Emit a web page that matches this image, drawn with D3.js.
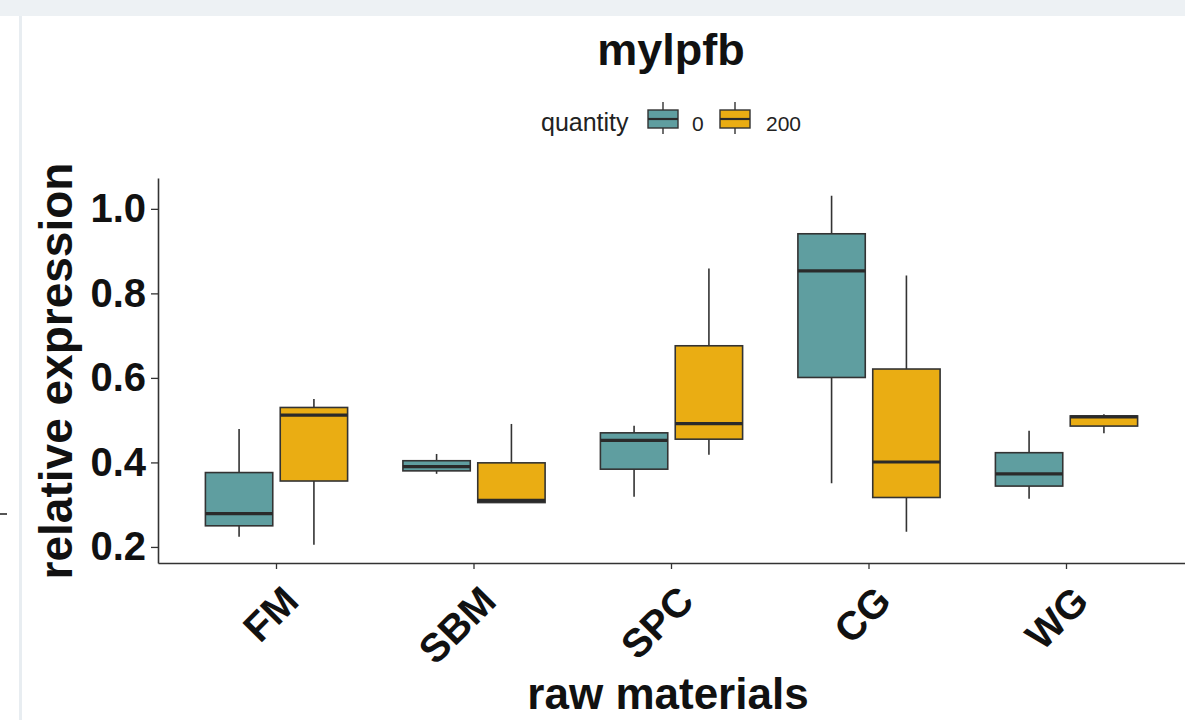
<!DOCTYPE html>
<html>
<head>
<meta charset="UTF-8">
<script src="https://d3js.org/d3.v7.min.js"></script>
<style>
  body { margin: 0; background: #fff; }
  text { font-family: "Liberation Sans", Arial, sans-serif; }
</style>
</head>
<body>
<div id="chart"></div>
<script>
    // categories and groups
    const categories = ["FM", "SBM", "SPC", "CG", "WG"];
    const quantities = ["0", "200"];
    const yTicks = [0.2, 0.4, 0.6, 0.8, 1.0];

    // box statistics, one array per quantity
    const lower0  = [0.224, 0.373, 0.319, 0.351, 0.314];
    const q1_0    = [0.250, 0.380, 0.384, 0.601, 0.344];
    const median0 = [0.279, 0.390, 0.452, 0.853, 0.373];
    const q3_0    = [0.376, 0.404, 0.470, 0.941, 0.423];
    const upper0  = [0.479, 0.420, 0.487, 1.031, 0.475];

    const lower200  = [0.205, 0.305, 0.418, 0.236, 0.469];
    const q1_200    = [0.356, 0.305, 0.455, 0.317, 0.486];
    const median200 = [0.512, 0.310, 0.492, 0.401, 0.508];
    const q3_200    = [0.530, 0.399, 0.676, 0.621, 0.510];
    const upper200  = [0.550, 0.491, 0.859, 0.842, 0.514];

    const stats = {
        "0":   {lo: lower0, q1: q1_0, med: median0, q3: q3_0, hi: upper0},
        "200": {lo: lower200, q1: q1_200, med: median200, q3: q3_200, hi: upper200}
    };

    const W = 1185, H = 720;
    const plot = {left: 158, right: 1185, top: 178, bottom: 563};

    const svg = d3.select("#chart").append("svg")
        .attr("width", W)
        .attr("height", H);

    // screenshot frame bits
    svg.append("rect").attr("x", 0).attr("y", 0).attr("width", W).attr("height", 16).attr("fill", "#edf1f4");
    svg.append("rect").attr("x", 19).attr("y", 16).attr("width", 3).attr("height", H - 16).attr("fill", "#e8edf1");
    svg.append("line").attr("x1", 0).attr("x2", 7).attr("y1", 514).attr("y2", 514)
        .attr("stroke", "#555").attr("stroke-width", 2);

    // scales
    const x = d3.scaleBand()
        .domain(categories)
        .range([plot.left, plot.right])
        .paddingInner(0)
        .paddingOuter(0.1);

    const xSub = d3.scaleBand()
        .domain(quantities)
        .range([-0.36 * x.step(), 0.36 * x.step()])
        .paddingInner(0.1);

    const y = d3.scaleLinear()
        .domain([0.162, 1.073])
        .range([plot.bottom, plot.top]);

    const color = d3.scaleOrdinal()
        .domain(quantities)
        .range(["#5f9ea0", "#eaad13"]);

    // boxes
    const rows = [];
    quantities.forEach(q => {
        categories.forEach((c, i) => {
            rows.push({cat: c, q: q, lo: stats[q].lo[i], q1: stats[q].q1[i],
                med: stats[q].med[i], q3: stats[q].q3[i], hi: stats[q].hi[i]});
        });
    });

    const boxes = svg.append("g").selectAll("g")
        .data(rows)
        .join("g")
        .attr("transform", d => `translate(${x(d.cat) + x.bandwidth() / 2 + xSub(d.q)},0)`);

    boxes.append("line")
        .attr("x1", xSub.bandwidth() / 2).attr("x2", xSub.bandwidth() / 2)
        .attr("y1", d => y(d.hi)).attr("y2", d => y(d.lo))
        .attr("stroke", "#333").attr("stroke-width", 1.6);

    boxes.append("rect")
        .attr("x", 0)
        .attr("width", xSub.bandwidth())
        .attr("y", d => y(d.q3))
        .attr("height", d => y(d.q1) - y(d.q3))
        .attr("fill", d => color(d.q))
        .attr("stroke", "#333")
        .attr("stroke-width", 1.6);

    boxes.append("line")
        .attr("x1", 0).attr("x2", xSub.bandwidth())
        .attr("y1", d => y(d.med)).attr("y2", d => y(d.med))
        .attr("stroke", "#2a2a2a").attr("stroke-width", 3.2);

    // axes
    const yAxis = svg.append("g")
        .attr("transform", `translate(${plot.left},0)`)
        .call(d3.axisLeft(y).tickValues(yTicks).tickFormat(d3.format(".1f")).tickSize(7).tickSizeOuter(0).tickPadding(5));
    yAxis.select(".domain").attr("stroke", "#333").attr("stroke-width", 1.6);
    yAxis.selectAll(".tick line").attr("stroke", "#333").attr("stroke-width", 1.3);
    yAxis.selectAll(".tick text")
        .attr("fill", "#111")
        .style("font-size", "40px")
        .style("font-weight", "bold")
        .style("font-family", "'Liberation Sans', Arial, sans-serif");

    const xAxis = svg.append("g")
        .attr("transform", `translate(0,${plot.bottom})`)
        .call(d3.axisBottom(x).tickSize(6).tickSizeOuter(0).tickFormat(""));
    xAxis.select(".domain").attr("stroke", "#333").attr("stroke-width", 1.6);
    xAxis.selectAll(".tick line").attr("stroke", "#333").attr("stroke-width", 1.3);

    svg.append("g").selectAll("text")
        .data(categories)
        .join("text")
        .attr("transform", d => `translate(${x(d) + x.bandwidth() / 2 + 4},${plot.bottom + 20}) rotate(-45)`)
        .attr("text-anchor", "end")
        .attr("dy", "0.72em")
        .attr("fill", "#111")
        .style("font-size", "40px")
        .style("font-weight", "bold")
        .text(d => d);

    // titles
    svg.append("text")
        .attr("x", 671).attr("y", 65)
        .attr("text-anchor", "middle")
        .attr("fill", "#111")
        .style("font-size", "45px")
        .style("font-weight", "bold")
        .text("mylpfb");

    svg.append("text")
        .attr("x", 668).attr("y", 709)
        .attr("text-anchor", "middle")
        .attr("fill", "#111")
        .style("font-size", "44px")
        .style("font-weight", "bold")
        .text("raw materials");

    svg.append("text")
        .attr("transform", "translate(72,371) rotate(-90)")
        .attr("text-anchor", "middle")
        .attr("fill", "#111")
        .style("font-size", "46px")
        .style("font-weight", "bold")
        .text("relative expression");

    // legend
    const legend = svg.append("g");
    legend.append("text")
        .attr("x", 541).attr("y", 131)
        .attr("fill", "#222")
        .style("font-size", "25px")
        .text("quantity");

    const keyX = [648, 720];
    const labX = [692, 766];
    quantities.forEach((q, i) => {
        const k = legend.append("g").attr("transform", `translate(${keyX[i]},0)`);
        k.append("line").attr("x1", 15).attr("x2", 15).attr("y1", 102).attr("y2", 134)
            .attr("stroke", "#333").attr("stroke-width", 1.4);
        k.append("rect").attr("x", 0).attr("y", 110).attr("width", 30).attr("height", 18)
            .attr("fill", color(q)).attr("stroke", "#333").attr("stroke-width", 1.4);
        k.append("line").attr("x1", 0).attr("x2", 30).attr("y1", 119).attr("y2", 119)
            .attr("stroke", "#2a2a2a").attr("stroke-width", 2.2);
        legend.append("text")
            .attr("x", labX[i]).attr("y", 131)
            .attr("fill", "#222")
            .style("font-size", "21px")
            .text(q);
    });
</script>
</body>
</html>
